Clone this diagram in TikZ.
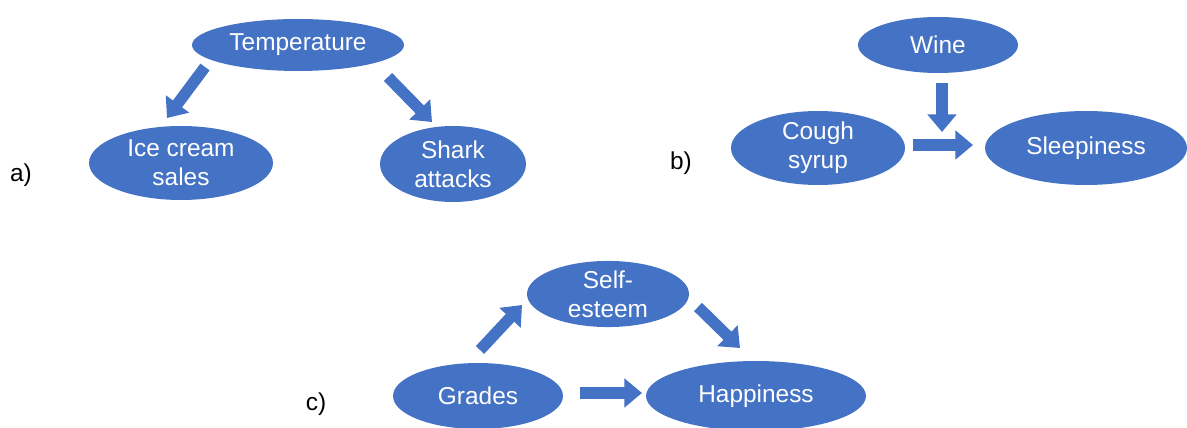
\documentclass[tikz,border=0pt]{standalone}
\usepackage{fontspec}
\setmainfont{Liberation Sans}
\usepackage{tikz}
\usetikzlibrary{arrows.meta,shapes.geometric}
\definecolor{officeblue}{HTML}{4472C4}

\begin{document}
\begin{tikzpicture}[x=0.02cm,y=-0.02cm,
  font=\fontsize{13.9}{16.4}\selectfont,
  bubble/.style={ellipse,fill=officeblue,text=white,inner sep=0pt,align=center},
  fatarrow/.style={draw=officeblue,line width=6.5pt,-{Triangle[width=16pt,length=10pt]}}]
  \useasboundingbox (0,0) rectangle (1187,428);

  % a)
  \node[bubble,minimum width=4.24cm,minimum height=1.04cm] (temp) at (298,45) {Temperature};
  \node[bubble,minimum width=3.68cm,minimum height=1.48cm] (ice) at (181,163) {Ice cream\\sales};
  \node[bubble,minimum width=2.92cm,minimum height=1.52cm] (shark) at (453,164) {Shark\\attacks};
  \draw[fatarrow] ([shift={(-93,22)}]temp.center) -- ([shift={(-14,-45)}]ice.center);
  \draw[fatarrow] ([shift={(90,32)}]temp.center) -- ([shift={(-21,-42)}]shark.center);
  \node (la) at (21,175) {a)};

  % b)
  \node[bubble,minimum width=3.2cm,minimum height=1.12cm] (wine) at (938,45) {Wine};
  \node[bubble,minimum width=3.48cm,minimum height=1.48cm] (cough) at (818,148) {Cough\\syrup};
  \node[bubble,minimum width=4.04cm,minimum height=1.48cm] (sleep) at (1086,148) {Sleepiness};
  \draw[fatarrow] ([shift={(4,38)}]wine.center) -- ([shift={(-144,-16)}]sleep.center);
  \draw[fatarrow] ([shift={(95,-3)}]cough.center) -- ([shift={(-113,-3)}]sleep.center);
  \node (lb) at (681,163) {b)};

  % c)
  \node[bubble,minimum width=3.24cm,minimum height=1.26cm] (self) at (608,294) {Self-\\esteem};
  \node[bubble,minimum width=3.4cm,minimum height=1.32cm] (grades) at (478,396) {Grades};
  \node[bubble,minimum width=4.4cm,minimum height=1.4cm] (happy) at (756,396) {Happiness};
  \draw[fatarrow] ([shift={(2,-46)}]grades.center) -- ([shift={(-86,11)}]self.center);
  \draw[fatarrow] ([shift={(90,13)}]self.center) -- ([shift={(-16,-48)}]happy.center);
  \draw[fatarrow] ([shift={(102,-3)}]grades.center) -- ([shift={(-114,-3)}]happy.center);
  \node (lc) at (316,404) {c)};
\end{tikzpicture}
\end{document}
